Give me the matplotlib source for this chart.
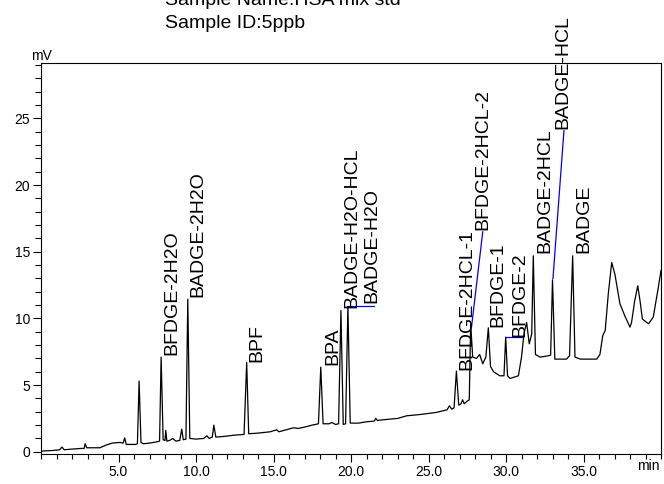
import matplotlib
matplotlib.use('Agg')
import matplotlib.pyplot as plt
from matplotlib.ticker import MultipleLocator, FixedLocator

plt.rcParams['font.family'] = ['Liberation Sans', 'DejaVu Sans']

# Chromatogram trace (time in min, signal in mV)
time_min = [0.0, 0.8, 1.2, 1.35, 1.5, 2.0, 2.6, 2.78, 2.85, 2.95, 3.2, 3.8, 4.2, 4.6,
            5.1, 5.3, 5.4, 5.5, 6.1, 6.22, 6.33, 6.45, 6.6, 7.0, 7.5, 7.65, 7.75, 7.88,
            8.0, 8.05, 8.12, 8.3, 8.5, 8.7, 8.95, 9.08, 9.18, 9.35, 9.47, 9.6, 10.0,
            10.5, 10.7, 10.85, 11.05, 11.15, 11.28, 11.8, 12.5, 13.1, 13.27, 13.4, 14.0,
            14.8, 15.2, 15.35, 16.0, 16.3, 16.6, 17.0, 17.5, 17.9, 18.05, 18.2, 18.6,
            18.75, 19.0, 19.2, 19.35, 19.5, 19.65, 19.8, 19.95, 20.5, 21.0, 21.5, 21.6,
            21.7, 22.5, 23.0, 23.6, 24.5, 25.5, 26.2, 26.35, 26.5, 26.65, 26.8, 26.95,
            27.1, 27.2, 27.3, 27.5, 27.63, 27.72, 27.85, 28.1, 28.3, 28.5, 28.7, 28.86,
            29.0, 29.2, 29.6, 29.87, 29.98, 30.1, 30.26, 30.8, 31.0, 31.16, 31.33, 31.5,
            31.66, 31.76, 31.9, 32.2, 32.73, 32.88, 33.0, 33.15, 33.9, 34.1, 34.3, 34.45,
            34.8, 35.85, 36.06, 36.24, 36.4, 36.6, 36.82, 37.03, 37.35, 37.7, 37.9, 38.0,
            38.1, 38.3, 38.5, 38.65, 38.8, 39.2, 39.5, 39.83, 40.0]
signal_mv = [0.05, 0.1, 0.15, 0.35, 0.15, 0.2, 0.25, 0.25, 0.6, 0.3, 0.3, 0.3, 0.5, 0.65,
             0.7, 0.65, 1.05, 0.55, 0.55, 0.6, 5.3, 0.7, 0.6, 0.65, 0.75, 0.8, 7.1, 0.9,
             0.85, 1.6, 0.8, 0.85, 1.0, 0.8, 0.85, 1.7, 0.9, 0.95, 11.45, 1.0, 0.95,
             1.0, 1.2, 1.0, 1.1, 2.0, 1.1, 1.15, 1.25, 1.3, 6.7, 1.35, 1.4,
             1.5, 1.65, 1.5, 1.7, 1.8, 1.75, 1.85, 2.0, 2.1, 6.35, 2.1, 2.1,
             2.2, 2.05, 2.1, 10.6, 2.05, 2.1, 10.9, 2.15, 2.15, 2.25, 2.3, 2.5,
             2.35, 2.45, 2.5, 2.7, 2.8, 2.95, 3.15, 3.45, 3.2, 3.3, 6.05, 3.5,
             3.6, 3.9, 3.6, 3.8, 3.9, 9.65, 7.1, 7.0, 7.3, 6.6, 7.1, 9.3,
             6.4, 6.0, 5.7, 5.7, 8.6, 5.7, 5.5, 5.7, 7.1, 8.85, 9.7, 8.1,
             8.85, 14.7, 7.3, 7.1, 7.2, 7.25, 12.9, 6.95, 6.95, 7.2, 14.7, 7.1,
             6.95, 6.95, 7.3, 8.7, 9.1, 11.85, 14.2, 13.3, 11.1, 10.1, 9.6, 9.35,
             9.7, 11.3, 12.45, 11.3, 9.95, 9.6, 10.1, 12.35, 13.6]

# Peak labels
peak_names = ['BFDGE-2H2O', 'BADGE-2H2O', 'BPF', 'BPA', 'BADGE-H2O-HCL', 'BADGE-H2O',
              'BFDGE-2HCL-1', 'BFDGE-2HCL-2', 'BFDGE-1', 'BFDGE-2', 'BADGE-2HCL',
              'BADGE-HCL', 'BADGE']
label_time = [8.45, 10.1, 13.95, 18.8, 20.06, 21.35, 27.5, 28.5, 29.5, 30.9, 32.5, 33.7, 35.0]
label_level = [7.25, 11.6, 6.7, 6.5, 10.8, 11.15, 6.1, 16.6, 9.35, 8.6, 14.9, 24.2, 14.9]

# Leader lines (peak apex -> label)
leader_t0 = [19.8, 27.78, 30.02, 33.03]
leader_v0 = [10.9, 9.4, 8.6, 13.0]
leader_t1 = [21.5, 28.5, 31.03, 33.74]
leader_v1 = [10.9, 16.5, 8.6, 24.1]

x_major = [5, 10, 15, 20, 25, 30, 35]
x_labels = ['5.0', '10.0', '15.0', '20.0', '25.0', '30.0', '35.0']
y_major = [0, 5, 10, 15, 20, 25]

fig = plt.figure(figsize=(6.64, 4.84), dpi=100)
ax = fig.add_axes([41 / 664, 30.5 / 484, 620 / 664, 390.2 / 484])

ax.plot(time_min, signal_mv, color='black', lw=0.9)
for t0, v0, t1, v1 in zip(leader_t0, leader_v0, leader_t1, leader_v1):
    ax.plot([t0, t1], [v0, v1], color='#0000ff', lw=0.9)
for name, t, v in zip(peak_names, label_time, label_level):
    ax.text(t, v, name, rotation=90, ha='center', va='bottom', fontsize=14,
            clip_on=False, zorder=5)

ax.set_xlim(0, 40)
ax.set_ylim(-0.13, 29.14)
ax.xaxis.set_major_locator(FixedLocator(x_major))
ax.set_xticklabels(x_labels)
ax.xaxis.set_minor_locator(MultipleLocator(1))
ax.yaxis.set_major_locator(FixedLocator(y_major))
ax.yaxis.set_minor_locator(MultipleLocator(1))
ax.tick_params(axis='x', which='major', length=6, width=0.8, labelsize=10, pad=2)
ax.tick_params(axis='x', which='minor', length=3.5, width=0.8)
ax.tick_params(axis='y', which='major', length=6, width=0.8, labelsize=10, pad=2)
ax.tick_params(axis='y', which='minor', length=4, width=0.8)
for sp in ax.spines.values():
    sp.set_linewidth(0.8)

ax.text(0, 1.0, 'mV', transform=ax.get_yaxis_transform() if False else ax.transAxes,
        ha='center', va='bottom', fontsize=10)
ax.text(0.998, -0.015, 'min', transform=ax.transAxes, ha='right', va='top', fontsize=10)

fig.text(165 / 664, 1 - 5 / 484, 'Sample Name:HSA mix std', fontsize=14, va='baseline')
fig.text(165 / 664, 1 - 28 / 484, 'Sample ID:5ppb', fontsize=14, va='baseline')

fig.savefig('out.png', dpi=100)
